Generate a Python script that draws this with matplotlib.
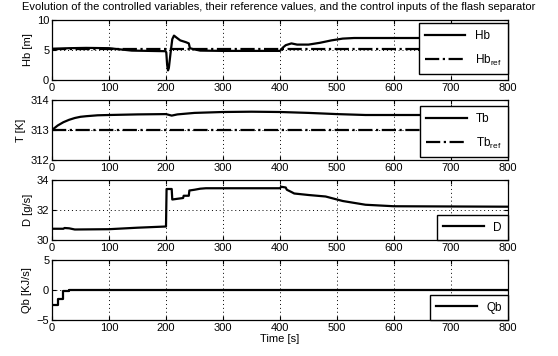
import matplotlib
matplotlib.use("Agg")
import matplotlib.pyplot as plt

plt.rcParams['font.family'] = ['Liberation Sans', 'DejaVu Sans']
plt.rcParams['mathtext.fontset'] = 'custom'
plt.rcParams['mathtext.rm'] = 'Liberation Sans'

# level Hb [m]
hb_t = [0, 30, 60, 100, 120, 140, 199, 200.5, 202, 203.5, 205, 208, 211, 214, 218, 225, 235, 240, 242,
        250, 260, 300, 400, 405, 410, 420, 430, 450, 470, 490, 510, 530, 800]
hb_v = [5.2, 5.3, 5.35, 5.3, 5.1, 4.9, 4.8, 4.6, 2.5, 1.6, 2.0, 4.5, 6.8, 7.4, 7.1, 6.6, 6.3, 6.1, 5.3,
        5.1, 4.9, 4.85, 4.85, 5.4, 5.8, 6.1, 5.9, 5.9, 6.2, 6.6, 6.9, 7.0, 7.0]
hb_ref = 5.2

# temperature Tb [K]
tb_t = [0, 10, 20, 30, 40, 50, 60, 80, 100, 150, 200, 210, 220, 250, 300, 350, 400, 450, 500, 550, 600, 800]
tb_v = [313.0, 313.15, 313.26, 313.34, 313.4, 313.44, 313.46, 313.49, 313.5, 313.52, 313.53, 313.48,
        313.52, 313.57, 313.6, 313.61, 313.6, 313.57, 313.53, 313.5, 313.5, 313.5]
tb_ref = 313.0

# distillate D [g/s]
d_t = [0, 20, 22, 30, 40, 100, 150, 200, 201, 210, 211, 230, 231, 240, 241, 250, 260,
       270, 400, 402, 410, 412, 420, 425, 450, 480, 510, 550, 600, 800]
d_v = [30.75, 30.75, 30.8, 30.78, 30.7, 30.72, 30.82, 30.9, 33.4, 33.4, 32.7, 32.8, 32.95, 32.95, 33.3,
       33.35, 33.42, 33.45, 33.45, 33.55, 33.5, 33.35, 33.2, 33.1, 33.0, 32.9, 32.6, 32.35, 32.25, 32.22]

# heat input Qb [KJ/s]
qb_t = [0, 10, 20, 30, 800]
qb_v = [-2.5, -1.5, -0.2, 0.0, 0.0]

fig = plt.figure(figsize=(5.58, 3.56), dpi=100)
W, H = 558.0, 356.0
left, right = 52, 508
tops = [20, 100, 180, 260]
hgt = 60

axes = []
for top in tops:
    ax = fig.add_axes([left / W, 1 - (top + hgt) / H, (right - left) / W, hgt / H])
    axes.append(ax)

lw = 1.6
ax1, ax2, ax3, ax4 = axes
ax1.plot(hb_t, hb_v, 'k-', lw=lw, label='Hb')
ax1.plot([0, 800], [hb_ref, hb_ref], 'k-.', lw=lw, label=r'Hb$_{\mathregular{ref}}$')
ax1.set_ylim(0, 10)
ax1.set_yticks([0, 5, 10])
ax1.set_ylabel('Hb [m]')

ax2.plot(tb_t, tb_v, 'k-', lw=lw, label='Tb')
ax2.plot([0, 800], [tb_ref, tb_ref], 'k-.', lw=lw, label=r'Tb$_{\mathregular{ref}}$')
ax2.set_ylim(312, 314)
ax2.set_yticks([312, 313, 314])
ax2.set_ylabel('T [K]')

ax3.plot(d_t, d_v, 'k-', lw=lw, label='D')
ax3.set_ylim(30, 34)
ax3.set_yticks([30, 32, 34])
ax3.set_ylabel('D [g/s]')

ax4.plot(qb_t, qb_v, 'k-', lw=lw, drawstyle='steps-post', label='Qb')
ax4.set_ylim(-5, 5)
ax4.set_yticks([-5, 0, 5])
ax4.set_ylabel('Qb [KJ/s]')
ax4.set_xlabel('Time [s]', fontsize=8, labelpad=1)

for ax in axes:
    ax.set_xlim(0, 800)
    ax.set_xticks(range(0, 801, 100))
    ax.grid(True, color='k', linestyle=(0, (1, 3)), lw=0.7)
    ax.tick_params(direction='in', labelsize=8, length=3, pad=2, top=True, right=True)
    ax.yaxis.label.set_size(8)
    ax.yaxis.labelpad = 3
    for s in ax.spines.values():
        s.set_linewidth(0.9)

legkw = dict(fancybox=False, framealpha=1, edgecolor='k', fontsize=8.5, handlelength=3.4,
             borderaxespad=0, borderpad=0.55, labelspacing=0.9)
ax1.legend(loc='center right', bbox_to_anchor=(1, 0.52), **legkw)
ax2.legend(loc='center right', bbox_to_anchor=(1, 0.47), **legkw)
ax3.legend(loc='lower right', bbox_to_anchor=(1, 0), **legkw)
ax4.legend(loc='lower right', bbox_to_anchor=(1, 0), **legkw)
for ax in axes:
    ax.get_legend().get_frame().set_linewidth(1.0)

fig.text(0.5, 1 - 7 / H, 'Evolution of the controlled variables, their reference values, and the control inputs of the flash separator',
         ha='center', va='center', fontsize=8)

fig.savefig('out.png', dpi=100)
